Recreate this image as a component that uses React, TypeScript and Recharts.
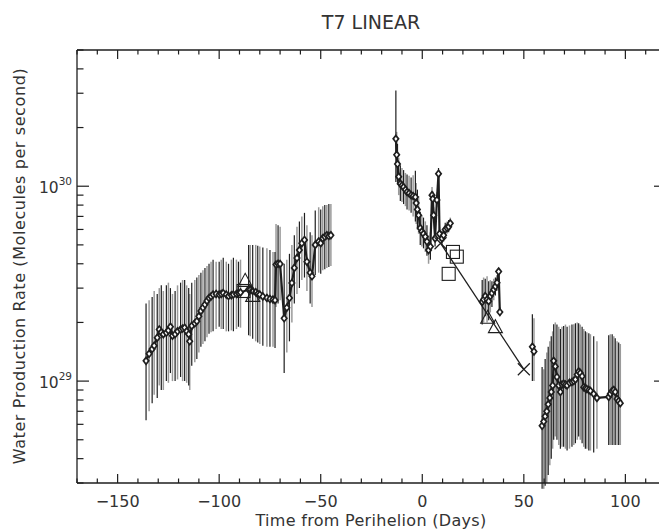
import { ScatterChart, Scatter, XAxis, YAxis, ErrorBar } from "recharts"

const INK = "#1e1e1e"
const GREY = "#9a9a9a"
const FONT = "'DejaVu Sans', sans-serif"

// rows are [day, rate in 1e29 mol/s, error bar bottom, error bar top]
const preObs = [
  [-136, 1.27, 0.63, 2.5], [-134.5, 1.38, 0.7, 2.6], [-133, 1.46, 0.77, 2.7], [-132, 1.52, 0.85, 2.9],
  [-130.5, 1.67, 0.82, 2.8], [-129.5, 1.84, 0.95, 3.0], [-128.5, 1.78, 0.9, 3.1], [-127.5, 1.74, 0.9, 2.9],
  [-126, 1.77, 1.0, 3.1], [-125, 1.82, 0.98, 3.2], [-124, 1.9, 1.1, 3.0], [-123, 1.71, 1.0, 2.8],
  [-121.7, 1.74, 1.0, 2.9], [-120.5, 1.8, 1.02, 3.1], [-119, 1.84, 1.05, 3.2], [-118, 1.86, 1.0, 3.3],
  [-117, 1.88, 1.0, 3.3], [-116, 1.8, 0.98, 3.1], [-115, 1.74, 0.95, 3.0], [-114.5, 1.6, 0.9, 2.8],
  [-113.5, 1.92, 1.2, 3.2], [-112, 1.98, 1.25, 3.3], [-111, 2.03, 1.3, 3.4], [-110, 2.15, 1.4, 3.5],
  [-109, 2.29, 1.5, 3.6], [-108, 2.38, 1.55, 3.7], [-107, 2.47, 1.6, 3.8], [-106, 2.58, 1.68, 3.9],
  [-105, 2.67, 1.75, 4.0], [-104, 2.72, 1.78, 4.1], [-103, 2.78, 1.8, 4.2], [-101.5, 2.8, 1.85, 4.1],
  [-100, 2.78, 1.9, 4.1], [-99, 2.8, 1.85, 4.2], [-98, 2.83, 1.85, 4.3], [-96.5, 2.78, 1.8, 4.1],
  [-95.4, 2.73, 1.8, 4.0], [-94, 2.76, 1.82, 4.2], [-93, 2.78, 1.8, 4.3], [-91.5, 2.8, 1.85, 4.2],
  [-90.5, 2.83, 1.9, 4.1], [-89.5, 2.85, 1.88, 4.2], [-85.5, 2.95, 1.72, 5.0], [-84.7, 2.95, 1.7, 5.0],
  [-83.5, 2.9, 1.65, 5.0], [-82, 2.86, 1.6, 5.0], [-81, 2.8, 1.58, 4.95], [-80, 2.78, 1.55, 4.9],
  [-78.5, 2.72, 1.52, 4.85], [-76.5, 2.67, 1.5, 4.8], [-75, 2.64, 1.5, 4.7], [-73.5, 2.62, 1.5, 4.6],
  [-72.5, 2.6, 1.48, 4.6], [-72, 3.96, 2.4, 6.4], [-71, 4.0, 2.5, 6.3], [-70, 3.99, 2.6, 6.2],
  [-68, 2.1, 1.1, 4.0], [-66.7, 2.38, 1.4, 4.2], [-65.4, 2.67, 1.6, 4.5], [-64.2, 3.19, 2.0, 5.0],
  [-63, 3.81, 2.5, 5.6], [-61.7, 4.28, 2.8, 6.2], [-60.5, 4.7, 3.0, 6.6], [-59.3, 5.1, 3.3, 7.0],
  [-58, 5.3, 3.4, 7.3], [-56.8, 4.1, 2.9, 6.3], [-55.2, 3.6, 2.5, 5.8], [-54.3, 3.45, 2.4, 5.6],
  [-52.7, 5.0, 3.5, 7.5], [-51, 5.2, 3.6, 7.8], [-50, 5.1, 3.55, 7.6], [-49, 5.4, 3.7, 7.9],
  [-48, 5.5, 3.75, 8.0], [-47, 5.6, 3.8, 8.0], [-46, 5.55, 3.85, 8.1], [-45, 5.6, 3.9, 8.1],
]

const nearObs = [
  [-13, 17.5, 10.5, 31], [-12.6, 14.5, 11, 19], [-12.2, 13, 10.2, 16.5], [-11.6, 11.2, 9, 14],
  [-10.8, 10.3, 8.4, 12.8], [-10, 10.1, 8.3, 12.4], [-9.2, 9.9, 8.1, 12.1], [-8.3, 9.6, 7.9, 11.7],
  [-7.5, 9.35, 7.6, 11.5], [-6.5, 9.2, 7.5, 11.3], [-5.5, 9.0, 7.3, 11.1], [-4.5, 8.9, 7.0, 11.4],
  [-3.4, 8.8, 6.6, 12.0], [-3.0, 8.2, 6.4, 10.4], [-2.4, 7.6, 6.0, 9.6], [-1.8, 7.1, 5.7, 8.9],
  [-1.0, 6.1, 5.0, 7.4], [-0.2, 5.85, 4.9, 7.1], [0.6, 5.7, 4.8, 6.9], [1.5, 5.5, 4.6, 6.6],
  [2.3, 5.2, 4.4, 6.3], [3.1, 4.7, 4.0, 5.6], [4.0, 4.9, 4.2, 5.8], [4.8, 9.0, 8.2, 9.9],
  [5.2, 8.6, 7.9, 9.4], [5.6, 7.1, 6.5, 7.8], [6.3, 5.4, 4.9, 5.9], [7.2, 8.5, 7.8, 9.3],
  [8.0, 11.6, 10.8, 12.4], [8.5, 5.7, 5.2, 6.2], [9.7, 5.4, 5.0, 5.9], [10.5, 5.6, 5.2, 6.1],
  [11.3, 6.0, 5.6, 6.5], [12.2, 6.1, 5.7, 6.6], [13.0, 6.2, 5.8, 6.7], [13.8, 6.45, 6.0, 6.9],
]

const lateObs = [
  [29.5, 2.55, 1.95, 3.3], [30.2, 2.62, 2.0, 3.4], [31.0, 2.73, 2.15, 3.35], [31.9, 2.62, 2.0, 3.45],
  [32.7, 2.57, 2.05, 3.25], [33.5, 2.73, 2.25, 3.3], [34.3, 2.83, 2.4, 3.25], [35.2, 2.95, 2.6, 3.35],
  [36.0, 3.06, 2.75, 3.4], [36.8, 3.2, 2.9, 3.5], [37.6, 3.65, 3.5, 3.8], [38.2, 2.26, 2.15, 2.4],
]

const jumpObs = [
  [54.2, 1.5, 1.0, 2.2], [55.0, 1.42, 1.0, 2.1],
]

const tailObs = [
  [59.0, 0.59, 0.28, 1.18], [59.8, 0.62, 0.28, 1.15], [60.5, 0.66, 0.29, 1.3], [61.3, 0.7, 0.3, 1.4],
  [62.0, 0.76, 0.33, 1.5], [62.8, 0.82, 0.37, 1.6], [63.5, 0.88, 0.4, 1.7], [64.2, 0.95, 0.45, 1.8],
  [64.7, 1.27, 0.5, 1.96], [65.5, 1.19, 0.52, 2.0], [66.3, 1.05, 0.5, 1.95], [67.2, 0.95, 0.47, 1.9],
  [68.0, 0.88, 0.45, 1.85], [68.8, 0.96, 0.46, 1.9], [69.6, 0.97, 0.46, 1.92], [70.5, 0.96, 0.45, 1.95],
  [71.3, 0.95, 0.44, 1.9], [72.5, 0.98, 0.45, 1.93], [73.7, 0.99, 0.46, 1.95], [74.6, 1.0, 0.47, 1.96],
  [75.4, 1.02, 0.48, 1.98], [76.3, 1.08, 0.5, 2.0], [77.0, 1.12, 0.52, 1.98], [77.8, 1.1, 0.5, 1.95],
  [78.7, 1.06, 0.48, 1.9], [79.5, 0.93, 0.46, 1.85], [80.3, 0.92, 0.45, 1.8], [81.0, 0.91, 0.45, 1.78],
  [82.0, 0.9, 0.44, 1.76], [82.8, 0.89, 0.44, 1.74], [84.4, 0.86, 0.43, 1.7], [86.0, 0.82, 0.45, 1.6],
  [91.8, 0.83, 0.47, 1.72], [92.6, 0.86, 0.47, 1.74], [93.5, 0.89, 0.47, 1.74], [94.3, 0.9, 0.47, 1.7],
  [95.0, 0.88, 0.47, 1.66], [95.9, 0.81, 0.47, 1.6], [96.7, 0.79, 0.47, 1.58], [97.5, 0.77, 0.47, 1.55],
]

// other observers
const triangleObs = [[-87.2, 3.25], [-83.5, 2.72], [32.2, 2.1], [36.0, 1.88]]
const squareObs = [[-88, 2.9], [15.1, 4.6], [17.0, 4.35], [13.0, 3.55]]
// linear fit end points
const fitLine = [[9, 5.1], [50, 1.15]]

const xTicks = [-170, -160, -150, -140, -130, -120, -110, -100, -90, -80, -70, -60, -50, -40, -30, -20, -10,
  0, 10, 20, 30, 40, 50, 60, 70, 80, 90, 100, 110, 120]
const xLabelTicks = [-150, -100, -50, 0, 50, 100]
const yTicks = [0.3, 0.4, 0.5, 0.6, 0.7, 0.8, 0.9, 1, 2, 3, 4, 5, 6, 7, 8, 9, 10, 20, 30, 40, 50]
const yLabelTicks = [1, 10]
const yLabelExp = ["29", "30"]

const toPoints = (rows: number[][]) => rows.map(([x, y, lo, hi]) => ({ x, y, e: [y - lo, hi - y] }))
const toXY = (rows: number[][]) => rows.map(([x, y]) => ({ x, y }))

const groups = [preObs, nearObs, lateObs, jumpObs, tailObs].map(toPoints)

const NoMark = () => <g />

const Diamond = ({ cx, cy }: any) => (
  <path d={`M${cx},${cy - 3.4}L${cx + 2.7},${cy}L${cx},${cy + 3.4}L${cx - 2.7},${cy}Z`} fill="#fff" stroke={INK} strokeWidth={1.7} />
)
const Triangle = ({ cx, cy }: any) => (
  <path d={`M${cx},${cy - 8}L${cx + 7},${cy + 5}L${cx - 7},${cy + 5}Z`} fill="none" stroke={INK} strokeWidth={1.1} />
)
const Square = ({ cx, cy }: any) => (
  <rect x={cx - 6.5} y={cy - 6.5} width={13} height={13} fill="none" stroke={INK} strokeWidth={1.1} />
)
const Cross = ({ cx, cy }: any) => (
  <path d={`M${cx - 6},${cy - 6}L${cx + 6},${cy + 6}M${cx - 6},${cy + 6}L${cx + 6},${cy - 6}`} stroke={INK} strokeWidth={1.2} />
)

const minus = (v: number) => (v < 0 ? "\u2212" + Math.abs(v) : String(v))

const BottomTick = ({ x, y, payload }: any) => {
  const major = xLabelTicks.includes(payload.value)
  return (
    <g>
      <line x1={x} x2={x} y1={y} y2={y - (payload.value % 50 === 0 ? 9 : 4.5)} stroke={INK} strokeWidth={1.2} />
      {major && (
        <text x={x} y={y + 24} textAnchor="middle" fontFamily={FONT} fontSize={16} fill="#333">
          {minus(payload.value)}
        </text>
      )}
    </g>
  )
}

const TopTick = ({ x, y, payload }: any) => (
  <line x1={x} x2={x} y1={y} y2={y + (payload.value % 50 === 0 ? 9 : 4.5)} stroke={INK} strokeWidth={1.2} />
)

const LeftTick = ({ x, y, payload }: any) => {
  const i = yLabelTicks.indexOf(payload.value)
  return (
    <g>
      <line x1={x} x2={x + (i >= 0 ? 12 : 6.5)} y1={y} y2={y} stroke={INK} strokeWidth={1.2} />
      {i >= 0 && (
        <text x={x - 5} y={y + 7} textAnchor="end" fontFamily={FONT} fontSize={15.5} fill="#333">
          <tspan>10</tspan>
          <tspan dy={-8} fontSize={10.5}>{yLabelExp[i]}</tspan>
        </text>
      )}
    </g>
  )
}

const RightTick = ({ x, y, payload }: any) => (
  <line x1={x} x2={x - (yLabelTicks.includes(payload.value) ? 12 : 6.5)} y1={y} y2={y} stroke={INK} strokeWidth={1.2} />
)

const axisLine = { stroke: INK, strokeWidth: 1.3 }

export default function App() {
  return (
    <div style={{ position: "absolute", left: 0, top: 0, width: 659, height: 531, overflow: "hidden", background: "#fff" }}>
      <div style={{ position: "absolute", left: 0, top: 11, width: 742, textAlign: "center", fontFamily: FONT, fontSize: 19, color: "#333" }}>
        T7 LINEAR
      </div>
      <div style={{ position: "absolute", left: 0, top: 511, width: 742, textAlign: "center", fontFamily: FONT, fontSize: 16, letterSpacing: 0.3, color: "#333" }}>
        Time from Perihelion (Days)
      </div>
      <div
        style={{
          position: "absolute", left: 20, top: 266, width: 500, marginLeft: -250, marginTop: -10, height: 20,
          textAlign: "center", transform: "rotate(-90deg)", fontFamily: FONT, fontSize: 16, letterSpacing: 0.6,
          color: "#333", whiteSpace: "nowrap", lineHeight: "20px",
        }}
      >
        Water Production Rate (Molecules per second)
      </div>
      <ScatterChart width={667} height={531} margin={{ top: 49, right: 0, bottom: 0, left: 0 }}>
        <XAxis type="number" dataKey="x" domain={[-170, 120]} ticks={xTicks} interval={0} height={48}
          tickSize={0} tickMargin={0} tick={<BottomTick />} axisLine={axisLine} allowDataOverflow />
        <XAxis xAxisId="top" orientation="top" type="number" dataKey="x" domain={[-170, 120]} ticks={xTicks}
          interval={0} height={1} tickSize={0} tickMargin={0} tick={<TopTick />} axisLine={axisLine} allowDataOverflow />
        <YAxis type="number" dataKey="y" scale="log" domain={[0.3, 50]} ticks={yTicks} interval={0} width={77}
          tickSize={0} tickMargin={0} tick={<LeftTick />} axisLine={axisLine} allowDataOverflow />
        <YAxis yAxisId="right" orientation="right" type="number" dataKey="y" scale="log" domain={[0.3, 50]}
          ticks={yTicks} interval={0} width={1} tickSize={0} tickMargin={0} tick={<RightTick />} axisLine={axisLine} allowDataOverflow />

        {groups.map((pts, g) => [
          <Scatter key={`g${g}`} data={pts.filter((_, i) => i % 2 === 1)} shape={NoMark} isAnimationActive={false}>
            <ErrorBar dataKey="e" direction="y" width={0} stroke={GREY} strokeWidth={1.5} isAnimationActive={false} />
          </Scatter>,
          <Scatter key={`b${g}`} data={pts.filter((_, i) => i % 2 === 0)} shape={NoMark} isAnimationActive={false}>
            <ErrorBar dataKey="e" direction="y" width={0} stroke={INK} strokeWidth={1.2} isAnimationActive={false} />
          </Scatter>,
          <Scatter key={`d${g}`} data={pts} shape={<Diamond />} line={{ stroke: INK, strokeWidth: 2.2 }}
            lineJointType="linear" isAnimationActive={false} />,
        ])}

        <Scatter xAxisId="top" yAxisId="right" data={toXY(fitLine)} shape={<Cross />}
          line={{ stroke: INK, strokeWidth: 1.3 }} isAnimationActive={false} />
        <Scatter data={toXY(triangleObs)} shape={<Triangle />} isAnimationActive={false} />
        <Scatter data={toXY(squareObs)} shape={<Square />} isAnimationActive={false} />
      </ScatterChart>
    </div>
  )
}
